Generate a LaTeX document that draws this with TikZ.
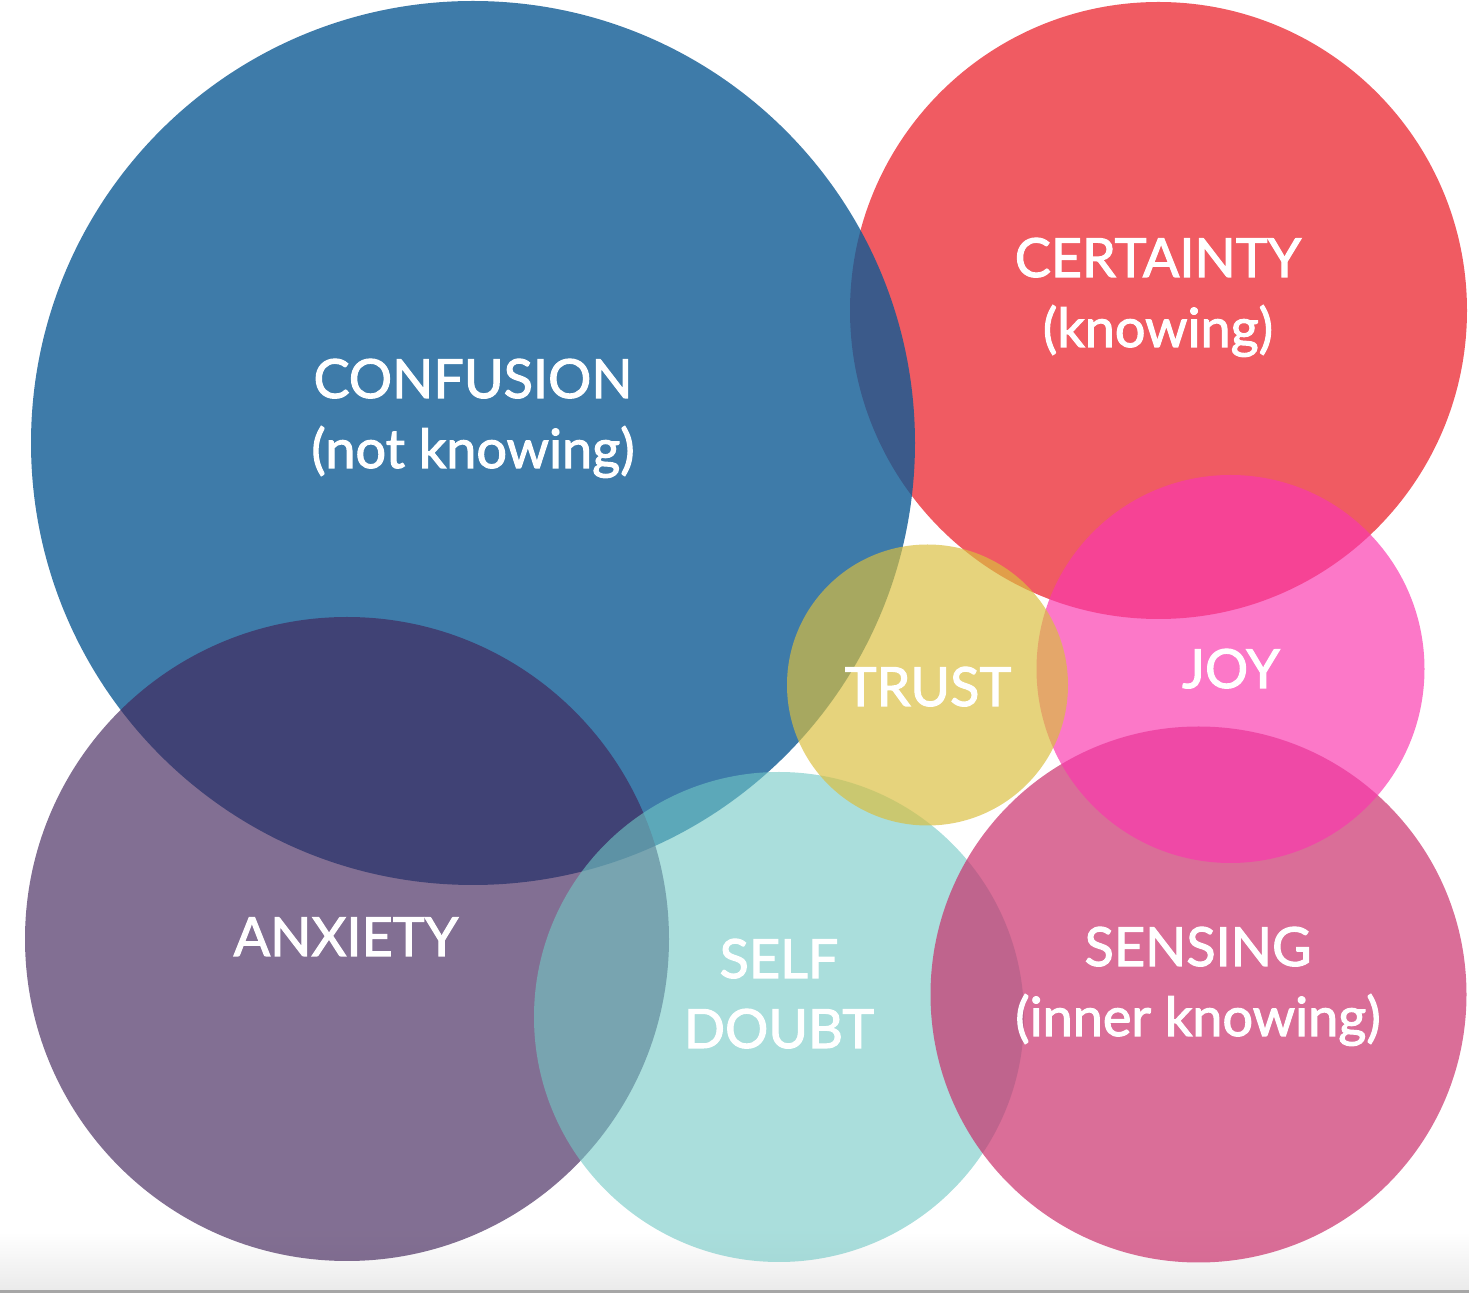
\documentclass[tikz,border=0pt]{standalone}
\usepackage{fontspec}
\setmainfont{Lato}
\newfontfamily\tagfont{Lato}[FakeBold=2]
\usetikzlibrary{positioning}

\definecolor{certaintyred}{RGB}{240,91,98}
\definecolor{confusionblue}{RGB}{14,90,148}
\definecolor{anxietypurple}{RGB}{66,37,91}
\definecolor{doubtcyan}{RGB}{113,200,197}
\definecolor{sensingrose}{RGB}{202,49,108}
\definecolor{joypink}{RGB}{250,56,174}
\definecolor{trustyellow}{RGB}{218,190,62}

\tikzstyle{bubble} = [circle, draw=none, inner sep=0pt, outer sep=0pt]
\tikzstyle{tag} = [text=white, align=center, anchor=base, inner sep=0pt, font=\tagfont\fontsize{27}{35}\selectfont]

\begin{document}
\begin{tikzpicture}[x=0.5pt,y=-0.5pt]

    \useasboundingbox (0,0) rectangle (1469,1293);
    \shade[top color=white, bottom color=black!8] (0,1232) rectangle (1469,1290);
    \fill[black!35] (0,1290) rectangle (1469,1293);

    % Circles
    \node[bubble, fill=certaintyred, minimum size=308.5pt] (certainty) at (1158.5,310.5) {};
    \node[bubble, fill=confusionblue, fill opacity=0.8, minimum size=442pt] (confusion) at (473,443) {};
    \node[bubble, fill=anxietypurple, fill opacity=0.66, minimum size=322pt] (anxiety) at (347,939) {};
    \node[bubble, fill=doubtcyan, fill opacity=0.6, minimum size=245pt] (selfdoubt) at (779,1017) {};
    \node[bubble, fill=sensingrose, fill opacity=0.7, minimum size=268pt] (sensing) at (1198.5,994.5) {};
    \node[bubble, fill=joypink, fill opacity=0.68, minimum size=194pt] (joy) at (1230.5,669) {};
    \node[bubble, fill=trustyellow, fill opacity=0.68, minimum size=140.5pt] (trust) at (927.5,685) {};

    % Labels (base = baseline of the last line)
    \node[tag] (confusionTxt) at (473,468) {CONFUSION\\(not knowing)};
    \node[tag] (certaintyTxt) at (1158,347) {CERTAINTY\\(knowing)};
    \node[tag] (trustTxt) at (928,706) {TRUST};
    \node[tag] (joyTxt) at (1231,688) {JOY};
    \node[tag] (anxietyTxt) at (346,956) {ANXIETY};
    \node[tag] (selfdoubtTxt) at (779,1048) {SELF\\DOUBT};
    \node[tag] (sensingTxt) at (1198,1036) {SENSING\\(inner knowing)};

\end{tikzpicture}
\end{document}
